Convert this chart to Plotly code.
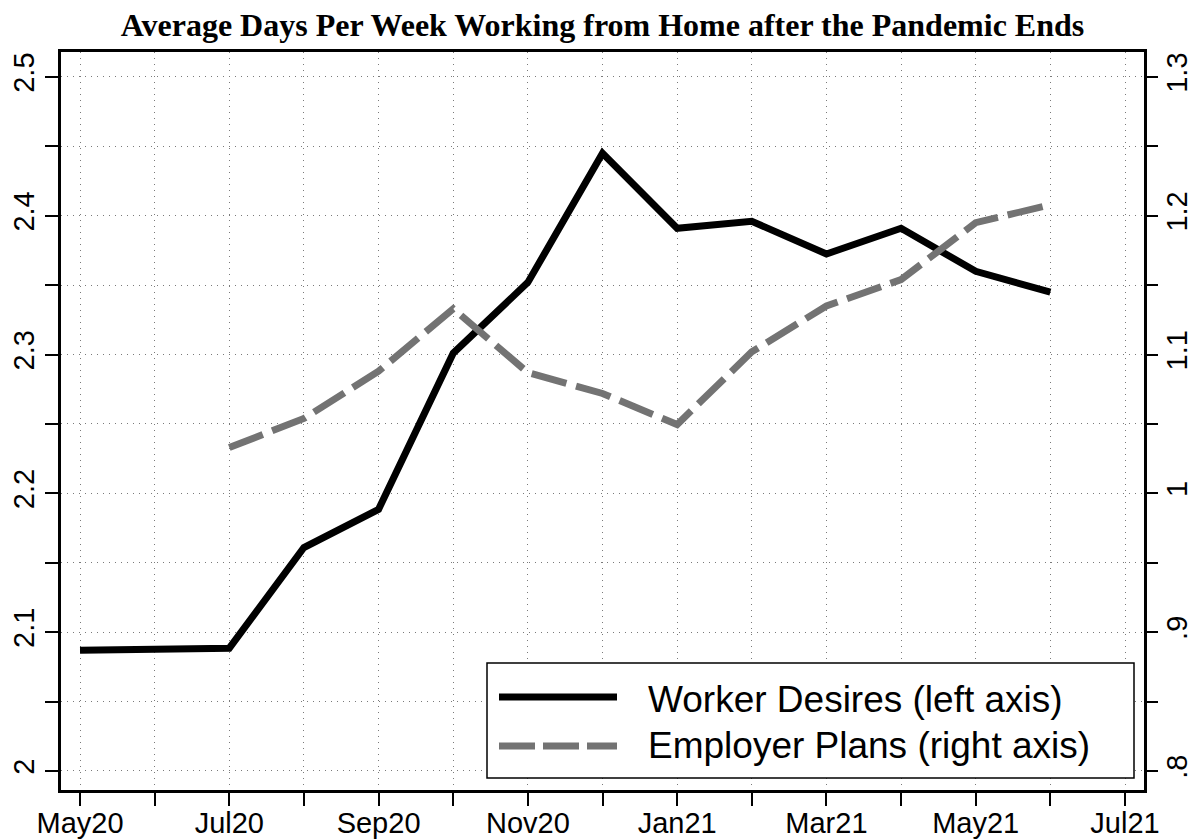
import plotly.graph_objects as go

# ---- data ----
months = ["May20", "Jun20", "Jul20", "Aug20", "Sep20", "Oct20", "Nov20",
          "Dec20", "Jan21", "Feb21", "Mar21", "Apr21", "May21", "Jun21"]
axis_months = months + ["Jul21"]
worker_desires = [2.087, 2.0875, 2.0885, 2.161, 2.1885, 2.301, 2.352,
                  2.445, 2.391, 2.396, 2.3725, 2.391, 2.360, 2.345]
employer_plans = [None, None, 1.033, 1.054, 1.088, 1.133, 1.087,
                  1.072, 1.0496, 1.102, 1.135, 1.154, 1.195, 1.208]
left_ticks = [2.0, 2.05, 2.1, 2.15, 2.2, 2.25, 2.3, 2.35, 2.4, 2.45, 2.5]
left_labels = ["2", "", "2.1", "", "2.2", "", "2.3", "", "2.4", "", "2.5"]
right_ticks = [0.8, 0.85, 0.9, 0.95, 1.0, 1.05, 1.1, 1.15, 1.2, 1.25, 1.3]
right_labels = [".8", "", ".9", "", "1", "", "1.1", "", "1.2", "", "1.3"]
title_text = "Average Days Per Week Working from Home after the Pandemic Ends"
legend_names = ["Worker Desires (left axis)", "Employer Plans (right axis)"]

x_idx = list(range(len(months)))
x_ticks = list(range(len(axis_months)))
x_labels = [m if i % 2 == 0 else "" for i, m in enumerate(axis_months)]

BLACK = "#000000"
GRAY = "#737373"
FONT = "Liberation Sans"

fig = go.Figure()
fig.add_trace(go.Scatter(x=x_idx, y=worker_desires, mode="lines",
                         line=dict(color=BLACK, width=7),
                         name=legend_names[0], showlegend=False, yaxis="y"))
fig.add_trace(go.Scatter(x=x_idx, y=employer_plans, mode="lines",
                         line=dict(color=GRAY, width=7, dash="36px,10px"),
                         name=legend_names[1], showlegend=False, yaxis="y2",
                         connectgaps=False))

W, H = 1195, 839
ml, mr, mt, mb = 61, 51, 52, 49
pw, ph = W - ml - mr, H - mt - mb


def px(xp):
    return (xp - ml) / pw


def py(yp):
    return (H - mb - yp) / ph


tickfont = dict(family=FONT, size=29, color=BLACK)

fig.update_layout(
    width=W, height=H,
    margin=dict(l=ml, r=mr, t=mt, b=mb, autoexpand=False),
    paper_bgcolor="white", plot_bgcolor="white",
    title=dict(text="<b>" + title_text + "</b>", x=0.5, xref="paper",
               y=1 - 25 / H, yref="container", xanchor="center", yanchor="middle",
               font=dict(family="Liberation Serif", size=32, color=BLACK)),
    xaxis=dict(range=[-0.2546, 14.2546], tickmode="array", tickvals=x_ticks,
               ticktext=x_labels, ticks="outside", ticklen=13, tickwidth=2,
               tickcolor=BLACK, showline=True, linewidth=2.5, linecolor=BLACK,
               mirror=True, showgrid=True, gridcolor="#7a7a7a", gridwidth=1,
               griddash="1px,5px", zeroline=False, tickfont=tickfont,
               tickangle=0, automargin=False, ticklabelstandoff=-8),
    yaxis=dict(range=[1.9863, 2.518], tickmode="array", tickvals=left_ticks,
               ticktext=left_labels, ticks="outside", ticklen=13, tickwidth=2,
               tickcolor=BLACK, showline=True, linewidth=2.5, linecolor=BLACK,
               mirror=True, showgrid=True, gridcolor="#7a7a7a", gridwidth=1,
               griddash="1px,5px", zeroline=False, tickfont=tickfont,
               tickangle=-90, automargin=False),
    yaxis2=dict(range=[0.7863, 1.318], tickmode="array", tickvals=right_ticks,
                ticktext=right_labels, ticks="outside", ticklen=13, tickwidth=2,
                tickcolor=BLACK, showline=False, overlaying="y", side="right",
                showgrid=False, zeroline=False, tickfont=tickfont, tickangle=-90,
                automargin=False, ticklabelstandoff=-6),
)

# custom legend box (decoration)
fig.add_shape(type="rect", xref="paper", yref="paper",
              x0=px(487), x1=px(1134), y0=py(778), y1=py(663),
              line=dict(color=BLACK, width=1.5), fillcolor="white", layer="above")
fig.add_shape(type="line", xref="paper", yref="paper",
              x0=px(499), x1=px(617), y0=py(697), y1=py(697),
              line=dict(color=BLACK, width=7), layer="above")
fig.add_shape(type="line", xref="paper", yref="paper",
              x0=px(499), x1=px(617), y0=py(746), y1=py(746),
              line=dict(color=GRAY, width=7, dash="36px,8px"), layer="above")
fig.add_annotation(x=px(646), y=py(699), xref="paper", yref="paper",
                   text=legend_names[0], showarrow=False, xanchor="left",
                   yanchor="middle", font=dict(family=FONT, size=37, color=BLACK))
fig.add_annotation(x=px(646), y=py(745), xref="paper", yref="paper",
                   text=legend_names[1], showarrow=False, xanchor="left",
                   yanchor="middle", font=dict(family=FONT, size=37, color=BLACK))

fig.write_html("out.html", config={"displayModeBar": False},
               post_script="document.body.style.margin='0px';"
                           "document.body.style.overflow='hidden';")
